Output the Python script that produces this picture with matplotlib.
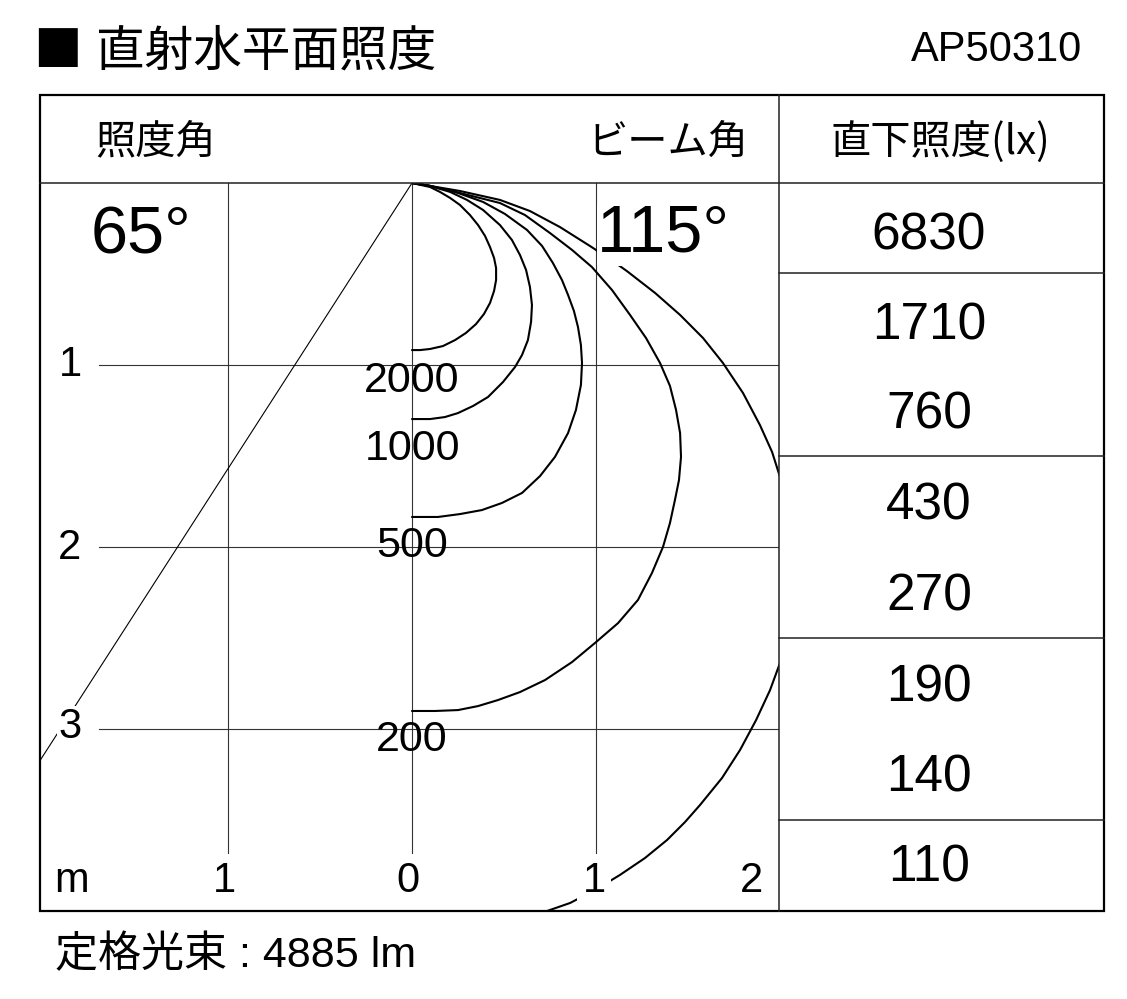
import numpy as np
import matplotlib
matplotlib.use("Agg")
import matplotlib.pyplot as plt
from matplotlib.patches import Rectangle

# isolux curves (x = horizontal distance m, y = depth m)
lux_levels = ["2000", "1000", "500", "200", "100"]
curve_x = [
    [0, 0.098, 0.152, 0.207, 0.261, 0.315, 0.359, 0.397, 0.424, 0.446, 0.457,
     0.457, 0.446, 0.424, 0.391, 0.348, 0.293, 0.234, 0.168, 0.098, 0.043, 0],
    [0, 0.098, 0.207, 0.299, 0.386, 0.478, 0.543, 0.587, 0.62, 0.641, 0.652,
     0.647, 0.63, 0.598, 0.56, 0.495, 0.413, 0.332, 0.25, 0.179, 0.098, 0],
    [0, 0.098, 0.234, 0.386, 0.505, 0.625, 0.707, 0.766, 0.815, 0.848, 0.88,
     0.902, 0.918, 0.924, 0.918, 0.891, 0.848, 0.777, 0.696, 0.598, 0.489,
     0.38, 0.261, 0.141, 0],
    [0, 0.098, 0.261, 0.478, 0.614, 0.75, 0.87, 0.978, 1.087, 1.185, 1.272,
     1.348, 1.402, 1.435, 1.457, 1.462, 1.451, 1.429, 1.402, 1.364, 1.304,
     1.228, 1.12, 0.995, 0.87, 0.723, 0.587, 0.467, 0.359, 0.25, 0.125, 0],
    [0, 0.098, 0.261, 0.478, 0.641, 0.804, 0.967, 1.076, 1.168, 1.321, 1.457,
     1.582, 1.69, 1.799, 1.891, 1.957, 2.0, 2.054, 2.092, 2.109, 2.092,
     2.054, 2.0, 1.946, 1.87, 1.783, 1.685, 1.565, 1.484, 1.386, 1.266, 1.13,
     0.995, 0.859, 0.734, 0.587, 0.37, 0.152, 0],
]
curve_y = [
    [0, 0.022, 0.049, 0.082, 0.121, 0.176, 0.231, 0.291, 0.352, 0.412, 0.467,
     0.533, 0.593, 0.659, 0.72, 0.775, 0.824, 0.863, 0.896, 0.912, 0.918, 0.918],
    [0, 0.016, 0.049, 0.093, 0.148, 0.231, 0.313, 0.396, 0.478, 0.571, 0.67,
     0.764, 0.863, 0.945, 1.011, 1.093, 1.176, 1.225, 1.264, 1.286, 1.297, 1.297],
    [0, 0.016, 0.049, 0.104, 0.17, 0.258, 0.346, 0.44, 0.533, 0.615, 0.703,
     0.791, 0.89, 0.989, 1.11, 1.247, 1.374, 1.505, 1.61, 1.703, 1.758, 1.797,
     1.819, 1.835, 1.835],
    [0, 0.016, 0.055, 0.11, 0.176, 0.275, 0.368, 0.462, 0.588, 0.725, 0.852,
     0.989, 1.115, 1.247, 1.374, 1.505, 1.632, 1.742, 1.868, 2.0, 2.143, 2.291,
     2.418, 2.527, 2.632, 2.731, 2.797, 2.841, 2.874, 2.896, 2.901, 2.901],
    [0, 0.016, 0.044, 0.093, 0.154, 0.242, 0.346, 0.418, 0.484, 0.604, 0.725,
     0.852, 0.989, 1.154, 1.33, 1.478, 1.615, 1.797, 1.989, 2.154, 2.346,
     2.511, 2.637, 2.786, 2.951, 3.115, 3.269, 3.418, 3.511, 3.61, 3.709, 3.802,
     3.885, 3.956, 4.0, 4.049, 4.093, 4.115, 4.13],
]
label_depth = [1.09, 1.46, 1.995, 3.06]   # where the lux labels sit

beam_angle = 65
beam_label = "65°"
field_label = "115°"

# table: direct-below illuminance
table_vals = ["6830", "1710", "760", "430", "270", "190", "140", "110"]

W, H = 1127, 999
fig = plt.figure(figsize=(W / 100, H / 100), dpi=100)

# chart area in data units (metres)
x0, y0, ux, uy = 412, 183, 184, 182
ax = fig.add_axes([40 / W, (H - 911) / H, (779 - 40) / W, (911 - 183) / H])
ax.set_xlim((40 - x0) / ux, (779 - x0) / ux)
ax.set_ylim((911 - y0) / uy, 0)
ax.axis("off")

grid_c = "#333333"
for yy in [1, 2, 3]:
    ax.plot([-1.70, 2.1], [yy, yy], color=grid_c, lw=0.8, zorder=1)
for xx in [-1, 0, 1]:
    ax.plot([xx, xx], [0, 3.68], color=grid_c, lw=0.8, zorder=1)

# beam angle line
half = np.radians(beam_angle / 2)
ax.plot([0, -np.tan(half) * 6], [0, 6], color="black", lw=0.8, zorder=2)

for cx, cy in zip(curve_x, curve_y):
    ax.plot(cx, cy, color="black", lw=1.5, zorder=3,
            solid_joinstyle="round", solid_capstyle="round")

num_font = ["Liberation Sans", "Noto Sans CJK JP"]
jp_font = ["Noto Sans CJK JP", "DejaVu Sans"]

for lab, d in zip(lux_levels[:4], label_depth):
    ax.text(0, d, lab, ha="center", va="center", fontsize=31,
            family=num_font, zorder=4)

# overlay in pixel coordinates
ov = fig.add_axes([0, 0, 1, 1])
ov.set_xlim(0, W)
ov.set_ylim(H, 0)
ov.axis("off")

ov.add_patch(Rectangle((40, 95), 1064, 816, fill=False, lw=1.6, ec="black"))
ov.plot([40, 1104], [183, 183], color="#222222", lw=1.1)
ov.plot([779, 779], [95, 911], color="#222222", lw=1.1)
for yy in [273, 456, 638, 820]:
    ov.plot([779, 1104], [yy, yy], color="#222222", lw=1.1)

ov.text(141, 237, beam_label, ha="center", va="center", fontsize=48,
        family=num_font, bbox=dict(facecolor="white", edgecolor="none", pad=3))
ov.text(663, 235, field_label, ha="center", va="center", fontsize=48,
        family=num_font, bbox=dict(facecolor="white", edgecolor="none", pad=0))

# axis numbers
for lab, yy in zip(["1", "2", "3"], [365, 548, 727]):
    ov.text(70, yy, lab, ha="center", va="center", fontsize=30,
            family=num_font, bbox=dict(facecolor="white", edgecolor="none", pad=1))
for lab, xx in zip(["m", "1", "0", "1", "2"], [72, 224, 408, 594, 752]):
    ov.text(xx, 881, lab, ha="center", va="center", fontsize=30,
            family=num_font, bbox=dict(facecolor="white", edgecolor="none", pad=4))

# header row
ov.text(95, 142, "照度角", ha="left", va="center", fontsize=29, family=jp_font)
ov.text(748, 142, "ビーム角", ha="right", va="center", fontsize=29, family=jp_font)
ov.text(940, 142, "直下照度(lx)", ha="center", va="center", fontsize=29,
        family=jp_font)

table_y = [236, 326, 415, 506, 597, 688, 778, 868]
for v, yy in zip(table_vals, table_y):
    ov.text(929, yy, v, ha="center", va="center", fontsize=37, family=num_font)

# title and footer
ov.text(33, 52, "■", ha="left", va="center", fontsize=35, family=jp_font)
ov.text(96, 52, "直射水平面照度", ha="left", va="center", fontsize=35,
        family=jp_font)
ov.text(1082, 50, "AP50310", ha="right", va="center", fontsize=30,
        family=num_font)
ov.text(55, 956, "定格光束 : 4885 lm", ha="left", va="center", fontsize=31,
        family=num_font)

fig.savefig("out.png", dpi=100, facecolor="white")
